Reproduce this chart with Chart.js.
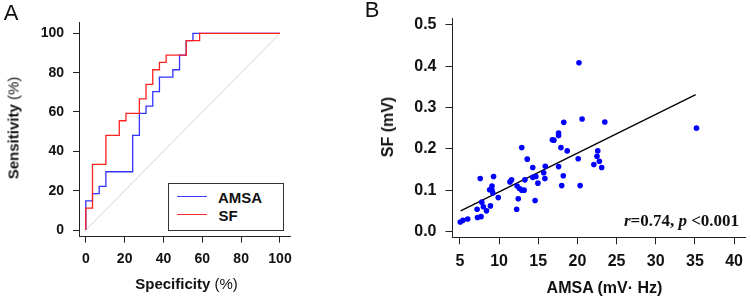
<!DOCTYPE html>
<html><head><meta charset="utf-8">
<script src="https://cdn.jsdelivr.net/npm/chart.js@4.4.1/dist/chart.umd.min.js"></script>
<style>
body{margin:0;background:#fff;width:751px;height:299px;overflow:hidden;position:relative;font-family:"Liberation Sans",Arial,sans-serif;color:#111}
canvas{position:absolute}
.t{position:absolute;white-space:nowrap;line-height:1;transform:translate(-50%,-50%)}
.b{font-weight:bold}
.n{font-weight:normal}
</style></head><body>
<canvas id="cA" width="300" height="299" style="left:0;top:0"></canvas>
<canvas id="cB" width="391" height="299" style="left:360px;top:0"></canvas>

<div class="t" style="left:11px;top:13px;font-size:22px">A</div>
<div class="t" style="left:372px;top:10px;font-size:22px">B</div>
<div class="t" style="left:12.5px;top:128px;font-size:15px;transform:translate(-50%,-50%) rotate(-90deg)"><span class="b">Sensitivity</span> <span class="n">(%)</span></div>
<div class="t" style="left:186.5px;top:283px;font-size:15px"><span class="b">Specificity</span> <span class="n">(%)</span></div>
<div class="t b" style="left:388px;top:127px;font-size:16px;transform:translate(-50%,-50%) rotate(-90deg)">SF (mV)</div>
<div class="t b" style="left:604.5px;top:288px;font-size:16px">AMSA (mV· Hz)</div>
<div class="t" style="left:681.5px;top:220px;font-size:17px;font-family:'Liberation Serif','Times New Roman',serif;font-weight:bold"><i>r</i>=0.74, <i>p</i> &lt;0.001</div>

<div style="position:absolute;left:168px;top:183px;width:113.5px;height:45.5px;border:1px solid #333;background:#fff"></div>
<div style="position:absolute;left:177px;top:195.5px;width:30px;height:1.3px;background:#3a3aff"></div>
<div style="position:absolute;left:177px;top:213.5px;width:30px;height:1.3px;background:#ff2a2a"></div>
<div class="t b" style="left:240px;top:196.5px;font-size:15px">AMSA</div>
<div class="t b" style="left:228px;top:214.5px;font-size:15px">SF</div>

<script>
// ---- Panel A: ROC curves (specificity %, sensitivity %) ----
const rocSpecSF   = [0,0,3.45,3.45,10.34,10.34,17.24,17.24,20.69,20.69,27.59,27.59,31.03,31.03,34.48,34.48,37.93,37.93,41.38,41.38,51.72,51.72,58.62,58.62,100];
const rocSensSF   = [0,11.11,11.11,33.33,33.33,48.15,48.15,55.56,55.56,59.26,59.26,66.67,66.67,74.07,74.07,81.48,81.48,85.19,85.19,88.89,88.89,96.30,96.30,100,100];
const rocSpecAMSA = [0,0,3.45,3.45,6.90,6.90,10.34,10.34,24.14,24.14,27.59,27.59,31.03,31.03,34.48,34.48,37.93,37.93,44.83,44.83,48.28,48.28,51.72,51.72,55.17,55.17,100];
const rocSensAMSA = [0,14.81,14.81,18.52,18.52,22.22,22.22,29.63,29.63,48.15,48.15,59.26,59.26,62.96,62.96,70.37,70.37,77.78,77.78,81.48,81.48,88.89,88.89,96.30,96.30,100,100];
const refX = [0,100];
const refY = [0,100];
const rocTicks = [0,20,40,60,80,100];

// ---- Panel B: scatter AMSA vs SF ----
const amsa = [5.05,5.4,6.0,7.25,7.7,7.2,7.8,8.0,8.4,8.9,7.6,8.8,9.1,9.1,9.2,9.3,9.9,11.4,11.6,12.3,12.6,12.9,13.2,12.45,12.25,12.9,13.3,13.6,14.3,14.3,14.7,14.6,14.96,15.7,15.9,15.85,16.8,17.0,17.6,17.6,17.6,17.9,18.0,18.2,18.26,18.7,20.1,20.2,20.35,20.6,22.1,22.5,22.6,22.8,23.1,23.5,35.2];
const sf   = [0.023,0.027,0.030,0.034,0.036,0.054,0.071,0.060,0.050,0.062,0.128,0.101,0.110,0.100,0.093,0.133,0.082,0.120,0.125,0.110,0.104,0.100,0.100,0.079,0.054,0.203,0.125,0.175,0.155,0.131,0.133,0.075,0.117,0.142,0.158,0.128,0.222,0.221,0.232,0.238,0.157,0.203,0.111,0.135,0.264,0.195,0.176,0.408,0.111,0.272,0.162,0.182,0.195,0.170,0.155,0.265,0.250];
const fitX = [5.1,35.1];
const fitY = [0.050,0.331];
const amsaTicks = [5,10,15,20,25,30,35,40];
const sfTicks = [0,0.1,0.2,0.3,0.4,0.5];

const pts = (xs, ys) => xs.map((x, i) => ({x: x, y: ys[i]}));
const AX = '#222';

function scale(o) {
  return {
    type: 'linear', min: o.min, max: o.max, offset: false,
    afterBuildTicks: s => { s.ticks = o.ticks.map(v => ({value: v})); },
    afterFit: s => { if (o.h !== undefined) s.height = o.h; else s.width = o.w; },
    grid: {display: true, drawOnChartArea: false, drawTicks: true, tickLength: o.tl, color: AX, lineWidth: 1},
    border: {display: true, color: AX, width: 1},
    ticks: {font: {family: '"Liberation Sans", Arial, sans-serif', size: o.fs, weight: 'bold'}, color: '#111',
            padding: o.pad, maxRotation: 0, minRotation: 0, autoSkip: false, callback: o.cb || (v => v)}
  };
}

const common = {
  responsive: false, animation: false, devicePixelRatio: 1,
  plugins: {legend: {display: false}, tooltip: {enabled: false}}
};

new Chart(document.getElementById('cA'), {
  type: 'scatter',
  data: {datasets: [
    {data: pts(rocSpecSF, rocSensSF), showLine: true, borderColor: '#ff2020', borderWidth: 1.3, pointRadius: 0, fill: false, tension: 0},
    {data: pts(rocSpecAMSA, rocSensAMSA), showLine: true, borderColor: '#3333ff', borderWidth: 1.3, pointRadius: 0, fill: false, tension: 0},
    {data: pts(refX, refY), showLine: true, borderColor: '#dcd2d2', borderWidth: 1, pointRadius: 0, fill: false}
  ]},
  options: Object.assign({}, common, {
    layout: {autoPadding: false, padding: {left: 0, top: 22.7, right: 6.7, bottom: 0}},
    scales: {
      x: scale({min: -3.5, max: 105.5, ticks: rocTicks, h: 62.3, tl: 6, fs: 14, pad: 8}),
      y: scale({min: -3.4, max: 105.4, ticks: rocTicks, w: 79, tl: 6, fs: 14, pad: 9})
    }
  })
});

new Chart(document.getElementById('cB'), {
  type: 'scatter',
  data: {datasets: [
    {data: pts(amsa, sf), backgroundColor: '#0000ff', borderWidth: 0, pointRadius: 2.8, showLine: false},
    {data: pts(fitX, fitY), showLine: true, borderColor: '#000', borderWidth: 1.3, pointRadius: 0, fill: false}
  ]},
  options: Object.assign({}, common, {
    layout: {autoPadding: false, padding: {left: 0, top: 18.1, right: 0, bottom: 0}},
    scales: {
      x: scale({min: 4.06, max: 41.5, ticks: amsaTicks, h: 61.7, tl: 7, fs: 16, pad: 8}),
      y: scale({min: -0.014, max: 0.515, ticks: sfTicks, w: 92.5, tl: 7, fs: 16, pad: 9, cb: v => v.toFixed(1)})
    }
  })
});
</script>
</body></html>
